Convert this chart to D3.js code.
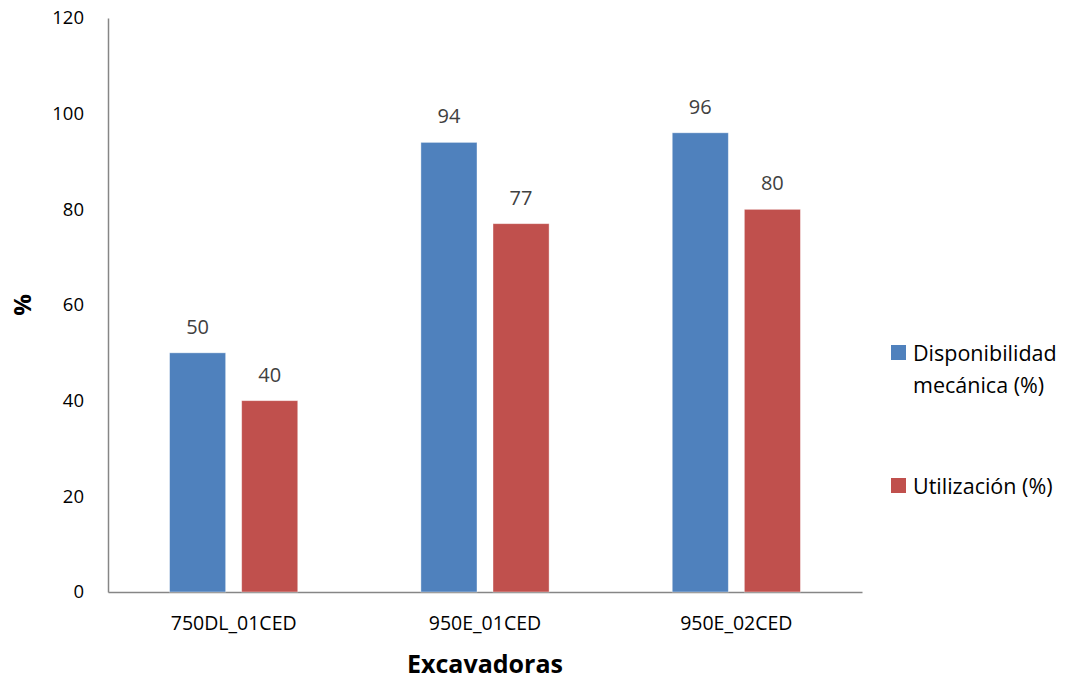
<!DOCTYPE html>
<html>
<head>
<meta charset="utf-8">
<script src="https://cdn.jsdelivr.net/npm/d3@7"></script>
<style>
  body { margin: 0; background: #fff; }
  text { font-family: "Open Sans", "Noto Sans", sans-serif; }
</style>
</head>
<body>
<svg id="chart" width="1071" height="681"></svg>
<script>
// Equipment and their indicators
const categories = ["750DL_01CED", "950E_01CED", "950E_02CED"];
const seriesNames = ["Disponibilidad mecánica (%)", "Utilización (%)"];
const disponibilidad = [50, 94, 96];
const utilizacion = [40, 77, 80];
const yTicks = [0, 20, 40, 60, 80, 100, 120];
const colors = ["#4F81BD", "#C0504D"];

const svg = d3.select("#chart");
const margin = { left: 108, right: 209, top: 18, bottom: 89 };
const W = 1071, H = 681;

const x = d3.scaleBand().domain(categories)
  .range([margin.left, W - margin.right]).paddingInner(0).paddingOuter(0);
const x1 = d3.scaleBand().domain([0, 1])
  .range([0, x.bandwidth()]).paddingInner(0.222).paddingOuter(0.854);
const y = d3.scaleLinear().domain([0, 120]).range([H - margin.bottom, margin.top]);

// Y axis
const yAxis = svg.append("g")
  .attr("transform", `translate(${margin.left},0)`)
  .call(d3.axisLeft(y).tickValues(yTicks).tickSize(0).tickPadding(24));
yAxis.select(".domain").attr("stroke", "#868686").attr("stroke-width", 1.5);
yAxis.selectAll("text").attr("font-size", 18.5).attr("fill", "#000");

// X axis
const xAxis = svg.append("g")
  .attr("transform", `translate(0,${H - margin.bottom})`)
  .call(d3.axisBottom(x).tickSize(0).tickPadding(24));
xAxis.select(".domain").attr("stroke", "#868686").attr("stroke-width", 1.5);
xAxis.selectAll("text").attr("font-size", 19.5).attr("fill", "#000");

// Bars
const data = [disponibilidad, utilizacion];
const groups = svg.append("g");
data.forEach((vals, s) => {
  groups.selectAll(null).data(vals).enter().append("rect")
    .attr("x", (d, i) => x(categories[i]) + x1(s))
    .attr("width", x1.bandwidth())
    .attr("y", d => y(d))
    .attr("height", d => y(0) - y(d))
    .attr("fill", colors[s])
    .attr("stroke", "#fff").attr("stroke-opacity", 0.5).attr("stroke-width", 0.8);
  groups.selectAll(null).data(vals).enter().append("text")
    .attr("x", (d, i) => x(categories[i]) + x1(s) + x1.bandwidth() / 2)
    .attr("y", d => y(d) - 19)
    .attr("text-anchor", "middle")
    .attr("font-size", 20).attr("fill", "#404040")
    .text(d => d);
});

// Axis titles
svg.append("text")
  .attr("x", (margin.left + W - margin.right) / 2).attr("y", 673)
  .attr("text-anchor", "middle").attr("font-size", 25).attr("font-weight", "bold")
  .text("Excavadoras");
svg.append("text")
  .attr("transform", `translate(31,${(margin.top + H - margin.bottom) / 2}) rotate(-90)`)
  .attr("text-anchor", "middle").attr("font-size", 24).attr("font-weight", "bold")
  .text("%");

// Legend
const legend = svg.append("g");
const legendRows = [
  { y: 345, lines: ["Disponibilidad", "mecánica (%)"] },
  { y: 478, lines: ["Utilización (%)"] }
];
legendRows.forEach((r, i) => {
  legend.append("rect").attr("x", 891).attr("y", r.y).attr("width", 15).attr("height", 15)
    .attr("fill", colors[i]);
  r.lines.forEach((ln, j) => {
    legend.append("text").attr("x", 913).attr("y", r.y + 16 + j * 32)
      .attr("font-size", 21.5).attr("fill", "#000").text(ln);
  });
});
</script>
</body>
</html>
